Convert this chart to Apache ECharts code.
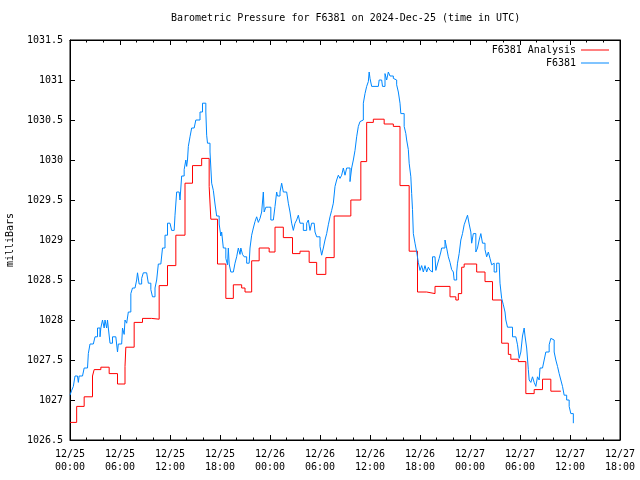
<!DOCTYPE html>
<html>
<head>
<meta charset="utf-8">
<script src="https://cdn.jsdelivr.net/npm/echarts@6/dist/echarts.min.js"></script>
<style>html,body{margin:0;padding:0;background:#fff}#c{width:640px;height:480px}</style>
</head>
<body>
<div id="c"></div>
<script>
// Hours since 2024-12-25 00:00 UTC
const xTickLabels = ['12/25\n00:00','12/25\n06:00','12/25\n12:00','12/25\n18:00','12/26\n00:00','12/26\n06:00','12/26\n12:00','12/26\n18:00','12/27\n00:00','12/27\n06:00','12/27\n12:00','12/27\n18:00'];

const analysisHours = [0.0,0.8,1.7,2.7,2.9,3.7,4.7,5.7,6.6,6.7,7.7,8.7,9.8,10.7,11.7,12.7,13.8,14.7,15.8,16.7,16.9,17.7,18.7,19.6,20.6,21.0,21.8,22.7,23.9,24.6,25.6,26.7,27.6,28.7,29.6,30.7,31.7,33.7,34.9,35.6,36.4,37.7,38.8,39.6,40.7,41.7,42.8,43.8,45.6,46.3,46.6,47.0,47.3,48.8,49.8,50.7,51.8,52.6,52.9,53.8,54.7,55.7,56.7,57.7,58.9];
const analysisValues = [1026.72,1026.92,1027.04,1027.30,1027.38,1027.41,1027.33,1027.20,1027.42,1027.66,1027.97,1028.02,1028.01,1028.43,1028.68,1029.06,1029.71,1029.93,1030.02,1029.67,1029.26,1028.70,1028.27,1028.44,1028.40,1028.35,1028.74,1028.90,1028.85,1029.16,1029.03,1028.83,1028.86,1028.72,1028.57,1028.78,1029.30,1029.50,1029.98,1030.47,1030.51,1030.45,1030.42,1029.68,1028.86,1028.35,1028.33,1028.42,1028.29,1028.25,1028.33,1028.66,1028.70,1028.60,1028.48,1028.25,1027.71,1027.57,1027.51,1027.48,1027.08,1027.13,1027.26,1027.11,1027.11];

const obsHours = [0.0,0.2,0.4,0.6,0.9,1.0,1.1,1.5,1.7,2.1,2.2,2.4,2.8,3.0,3.3,3.6,3.7,3.9,4.1,4.2,4.4,4.5,4.6,4.8,5.1,5.5,5.7,5.8,6.2,6.3,6.5,6.6,6.8,7.0,7.3,7.5,7.8,8.0,8.1,8.3,8.5,8.6,8.8,9.2,9.4,9.7,9.9,10.2,10.4,10.6,10.9,11.1,11.4,11.7,12.0,12.2,12.5,12.6,12.8,13.1,13.2,13.4,13.7,13.9,14.0,14.1,14.2,14.4,14.6,14.9,15.1,15.3,15.6,15.7,15.9,16.1,16.3,16.4,16.5,16.8,17.0,17.2,17.4,17.6,17.9,18.1,18.2,18.4,18.7,18.9,19.0,19.1,19.3,19.6,19.8,20.0,20.2,20.4,20.5,20.7,20.9,21.2,21.5,21.6,21.8,22.0,22.2,22.4,22.6,22.8,23.0,23.2,23.3,23.5,23.8,24.1,24.4,24.6,24.8,24.9,25.2,25.4,25.6,26.0,26.2,26.4,26.6,26.8,27.0,27.2,27.4,27.6,27.8,28.0,28.4,28.6,28.8,29.0,29.3,29.4,29.6,29.8,30.0,30.2,30.4,30.6,30.8,31.0,31.2,31.4,31.6,31.8,32.0,32.2,32.4,32.6,32.8,33.0,33.2,33.4,33.6,33.8,34.0,34.2,34.4,34.6,34.8,35.0,35.2,35.4,35.6,35.8,35.9,36.0,36.2,36.6,37.0,37.1,37.4,37.5,37.7,37.8,38.0,38.2,38.4,38.8,39.0,39.2,39.4,39.6,39.7,39.9,40.1,40.3,40.4,40.6,40.7,40.9,41.0,41.1,41.2,41.4,41.6,41.8,42.0,42.2,42.4,42.6,42.8,43.0,43.2,43.4,43.5,43.8,43.9,44.1,44.3,44.5,44.6,44.8,45.0,45.2,45.4,45.6,45.8,46.0,46.1,46.3,46.4,46.5,46.7,46.9,47.1,47.3,47.5,47.7,47.9,48.1,48.2,48.4,48.7,48.9,49.1,49.3,49.5,49.8,50.0,50.2,50.4,50.6,50.8,50.9,51.2,51.5,51.6,51.8,52.0,52.2,52.3,52.5,52.8,53.1,53.5,53.7,53.9,54.1,54.3,54.5,54.6,54.8,55.0,55.1,55.3,55.5,55.7,55.9,56.1,56.3,56.4,56.7,56.9,57.1,57.3,57.5,57.7,57.8,58.1,58.3,58.5,58.7,58.9,59.1,59.3,59.6,59.9,60.1,60.4];
const obsValues = [1027.06,1027.12,1027.17,1027.30,1027.30,1027.22,1027.30,1027.30,1027.40,1027.40,1027.58,1027.70,1027.70,1027.79,1027.90,1027.79,1027.90,1028.00,1027.90,1028.00,1027.90,1028.00,1027.90,1027.71,1027.79,1027.79,1027.60,1027.70,1027.70,1027.90,1027.82,1028.00,1027.96,1028.10,1028.33,1028.40,1028.40,1028.50,1028.59,1028.45,1028.45,1028.52,1028.59,1028.59,1028.46,1028.38,1028.29,1028.40,1028.50,1028.70,1028.70,1028.90,1029.06,1029.21,1029.21,1029.12,1029.12,1029.31,1029.60,1029.60,1029.50,1029.80,1029.88,1030.00,1029.92,1030.00,1030.17,1030.29,1030.40,1030.42,1030.50,1030.50,1030.60,1030.60,1030.71,1030.71,1030.60,1030.31,1030.21,1030.10,1029.71,1029.62,1029.45,1029.30,1029.20,1029.05,1029.10,1028.90,1028.77,1028.69,1028.90,1028.70,1028.60,1028.60,1028.71,1028.79,1028.90,1028.82,1028.90,1028.82,1028.79,1028.71,1028.71,1028.90,1029.06,1029.15,1029.23,1029.29,1029.22,1029.27,1029.35,1029.60,1029.35,1029.41,1029.41,1029.25,1029.25,1029.42,1029.60,1029.55,1029.60,1029.71,1029.60,1029.60,1029.46,1029.35,1029.21,1029.12,1029.21,1029.25,1029.31,1029.21,1029.21,1029.12,1029.21,1029.25,1029.12,1029.21,1029.21,1029.10,1029.04,1029.04,1028.92,1028.81,1028.90,1029.00,1029.08,1029.19,1029.29,1029.37,1029.46,1029.67,1029.75,1029.81,1029.77,1029.81,1029.90,1029.81,1029.90,1029.90,1029.73,1029.90,1030.00,1030.12,1030.29,1030.42,1030.48,1030.50,1030.71,1030.83,1030.92,1030.98,1031.10,1031.02,1030.92,1030.92,1030.92,1031.00,1031.00,1030.92,1030.92,1031.08,1031.00,1031.10,1031.05,1031.02,1031.00,1030.94,1030.85,1030.71,1030.58,1030.58,1030.42,1030.33,1030.25,1030.13,1029.96,1029.79,1029.58,1029.38,1029.08,1028.96,1028.85,1028.72,1028.62,1028.68,1028.60,1028.68,1028.60,1028.66,1028.62,1028.60,1028.79,1028.79,1028.62,1028.70,1028.77,1028.85,1028.90,1028.90,1029.00,1028.90,1028.79,1028.72,1028.63,1028.60,1028.50,1028.50,1028.60,1028.71,1028.83,1029.00,1029.08,1029.19,1029.25,1029.31,1029.20,1029.10,1028.96,1029.08,1028.85,1028.90,1029.00,1029.08,1028.96,1028.88,1028.79,1028.85,1028.77,1028.69,1028.71,1028.60,1028.71,1028.71,1028.46,1028.27,1028.19,1028.10,1028.00,1027.91,1027.91,1027.79,1027.79,1027.69,1027.52,1027.60,1027.80,1027.90,1027.80,1027.65,1027.38,1027.25,1027.22,1027.29,1027.22,1027.17,1027.29,1027.25,1027.40,1027.40,1027.50,1027.60,1027.60,1027.69,1027.77,1027.75,1027.60,1027.50,1027.42,1027.33,1027.25,1027.17,1027.06,1027.00,1026.92,1026.83,1026.71];

const FONT = 'DejaVu Sans Mono';
const chart = echarts.init(document.getElementById('c'), null, {renderer: 'canvas'});

const xCommon = {
  type: 'value', min: 0, max: 66, interval: 6,
  axisLine: {show: true, onZero: false, lineStyle: {color: '#000', width: 1}},
  axisTick: {show: true, inside: true, length: 5, lineStyle: {color: '#000'}},
  minorTick: {show: true, splitNumber: 3, length: 2.5, lineStyle: {color: '#000'}},
  splitLine: {show: false}
};
const yCommon = {
  type: 'value', min: 1026.5, max: 1031.5, interval: 0.5,
  axisLine: {show: true, onZero: false, lineStyle: {color: '#000', width: 1}},
  axisTick: {show: true, inside: true, length: 5, lineStyle: {color: '#000'}},
  splitLine: {show: false}
};

chart.setOption({
  animation: false,
  backgroundColor: '#fff',
  textStyle: {fontFamily: FONT},
  title: {
    text: 'Barometric Pressure for F6381 on 2024-Dec-25 (time in UTC)',
    left: 171, top: 13, padding: 0,
    textStyle: {fontFamily: FONT, fontSize: 10, fontWeight: 'normal', color: '#000'}
  },
  grid: {left: 70, right: 20, top: 40, bottom: 40, show: true, borderColor: '#000', borderWidth: 1,
         containLabel: false, outerBoundsMode: 'none'},
  legend: [
    {data: ['F6381 Analysis'], right: 31, top: 45, orient: 'vertical', align: 'right', padding: 0,
     icon: 'rect', itemWidth: 28, itemHeight: 1, textStyle: {fontFamily: FONT, fontSize: 10, color: '#000'}},
    {data: ['F6381'], right: 31, top: 58, orient: 'vertical', align: 'right', padding: 0,
     icon: 'rect', itemWidth: 28, itemHeight: 1, textStyle: {fontFamily: FONT, fontSize: 10, color: '#000'}}
  ],
  xAxis: [
    Object.assign({}, xCommon, {
      position: 'bottom',
      axisLabel: {show: true, margin: 8, fontFamily: FONT, fontSize: 10, lineHeight: 13, color: '#000',
        formatter: v => xTickLabels[Math.round(v / 6)] || ''}
    }),
    Object.assign({}, xCommon, {position: 'top', axisLabel: {show: false}})
  ],
  yAxis: [
    Object.assign({}, yCommon, {
      position: 'left',
      name: 'milliBars', nameLocation: 'middle', nameRotate: 90, nameGap: 55,
      nameTextStyle: {fontFamily: FONT, fontSize: 10, color: '#000'},
      axisLabel: {show: true, margin: 7, fontFamily: FONT, fontSize: 10, color: '#000',
        formatter: v => String(v)}
    }),
    Object.assign({}, yCommon, {position: 'right', axisLabel: {show: false}})
  ],
  series: [
    {
      name: 'F6381 Analysis', type: 'line', step: 'end', showSymbol: false, symbol: 'none',
      color: '#ff0000', lineStyle: {color: '#ff0000', width: 1},
      data: analysisHours.map((h, i) => [h, analysisValues[i]])
    },
    {
      name: 'F6381', type: 'line', step: 'end', showSymbol: false, symbol: 'none',
      color: '#0088ff', lineStyle: {color: '#0088ff', width: 1},
      data: obsHours.map((h, i) => [h, obsValues[i]])
    }
  ]
});
</script>
</body>
</html>
